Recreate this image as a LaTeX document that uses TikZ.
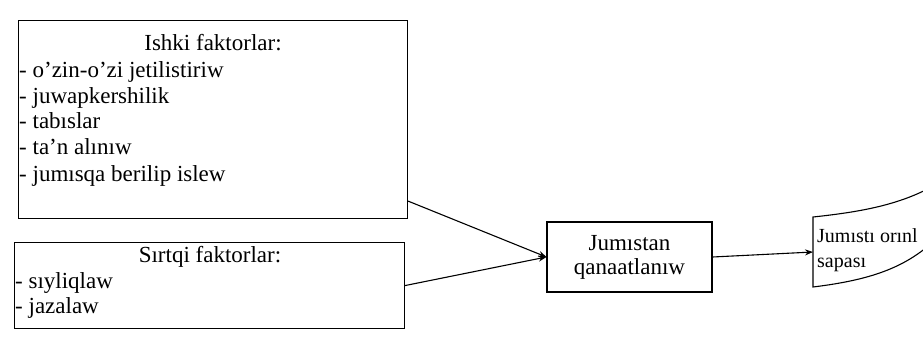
\documentclass[tikz,border=0pt]{standalone}
\usepackage{fontspec}
\setmainfont{Liberation Serif}
\usetikzlibrary{arrows.meta,calc}
\begin{document}
\begin{tikzpicture}[x=1pt,y=-1pt,
  box/.style={draw, line width=1.1pt, inner sep=0pt, anchor=north west},
  txt/.style={inner sep=0pt, anchor=base west, font=\fontsize{23}{25}\selectfont},
  ttl/.style={inner sep=0pt, anchor=base, font=\fontsize{23}{25}\selectfont},
  etxt/.style={inner sep=0pt, anchor=base west, font=\fontsize{20}{22}\selectfont},
  arr/.style={line width=1.1pt, -{Stealth[length=8pt,width=6pt]}}]
\useasboundingbox (0,0) rectangle (923,340);
\fill[white] (0,0) rectangle (923,340);
\begin{scope}
\clip (0,0) rectangle (923,340);
% Ishki faktorlar
\node[box, minimum width=389pt, minimum height=198pt] (ishki) at (18,20) {};
\node[ttl] (ishkit) at (213,50) {Ishki faktorlar:};
\node[txt] (i1) at (19,77) {- o’zin-o’zi jetilistiriw};
\node[txt] (i2) at (19,103) {- juwapkershilik};
\node[txt] (i3) at (19,128) {- tabıslar};
\node[txt] (i4) at (19,154) {- ta’n alınıw};
\node[txt] (i5) at (19,181) {- jumısqa berilip islew};
% Sirtqi faktorlar
\node[box, minimum width=390pt, minimum height=86pt] (sirtqi) at (14,242) {};
\node[ttl] (sirtqit) at (210,262) {Sırtqi faktorlar:};
\node[txt] (s1) at (15,288) {- sıyliqlaw};
\node[txt] (s2) at (15,313) {- jazalaw};
% Jumistan qanaatlaniw
\node[draw, line width=1.1pt, minimum width=165pt, minimum height=70pt, inner sep=0pt,
      align=center, font=\fontsize{23}{24}\selectfont] (jq) at (629.5,257) {Jumıstan\\qanaatlanıw};
% End shape
\draw[line width=1.1pt] (935,240) .. controls (905,268) and (870,280) .. (813,287)
   -- (813,217) .. controls (860,212) and (900,205) .. (935,185);
\coordinate (endl) at (813,252);
\node[etxt] (e1) at (817,242) {Jumıstı orınl};
\node[etxt] (e2) at (817,267) {sapası};
% connectors
\draw[arr] ($(ishki.south east)+(0,-18)$) -- (jq.west);
\draw[arr] (sirtqi.east) -- (jq.west);
\draw[arr] (jq.east) -- (endl);
\end{scope}
\end{tikzpicture}
\end{document}
